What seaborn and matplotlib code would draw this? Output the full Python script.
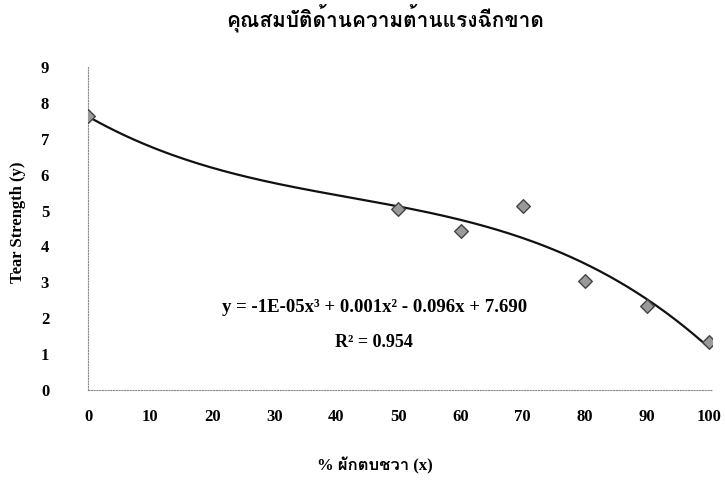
import numpy as np
import pandas as pd
import matplotlib
matplotlib.use("Agg")
import matplotlib.pyplot as plt
from matplotlib import font_manager
from matplotlib.ft2font import FT2Font
import seaborn as sns


TITLE = "คุณสมบัติด้านความต้านแรงฉีกขาด"
X_LABEL = "% ผักตบชวา (x)"
Y_LABEL = "Tear Strength (y)"
EQUATION = "y = -1E-05x³ + 0.001x² - 0.096x + 7.690"
R2_TEXT = "R² = 0.954"

PERCENT = [0, 50, 60, 70, 80, 90, 100]
TEAR_STRENGTH = [7.63, 5.04, 4.43, 5.13, 3.04, 2.34, 1.34]
X_TICKS = list(range(0, 101, 10))
Y_TICKS = list(range(0, 10))


def find_thai_font():
    for entry in font_manager.fontManager.ttflist:
        try:
            if 0x0E01 in FT2Font(entry.fname).get_charmap():
                return entry.name
        except Exception:
            continue
    return None


sns.set_theme(style="white")
thai = find_thai_font()
families = ["Liberation Serif"] + ([thai] if thai else []) + ["DejaVu Sans"]
plt.rcParams["font.family"] = families
plt.rcParams["font.weight"] = "bold"
plt.rcParams["text.color"] = "black"
plt.rcParams["xtick.color"] = "black"
plt.rcParams["ytick.color"] = "black"
plt.rcParams["axes.labelcolor"] = "black"

df = pd.DataFrame({"x": PERCENT, "y": TEAR_STRENGTH})

# cubic trendline, like the spreadsheet one
coef = np.polyfit(df["x"], df["y"], 3)
fit_x = np.linspace(0, 100, 200)
fit_df = pd.DataFrame({"x": fit_x, "y": np.polyval(coef, fit_x)})

fig = plt.figure(figsize=(7.25, 5.03), dpi=100)
ax = fig.add_axes([0.1214, 0.2247, 0.982 - 0.1214, 0.8668 - 0.2247])

sns.lineplot(data=fit_df, x="x", y="y", ax=ax, color="#111111", linewidth=1.6)
sns.scatterplot(data=df, x="x", y="y", ax=ax, marker="D", s=48,
                color="#9a9a9a", edgecolor="#444444", linewidth=1.0, zorder=3)

ax.set_xlim(0, 100.5)
ax.set_ylim(0, 9)
ax.set_xticks(X_TICKS)
ax.set_yticks(Y_TICKS)
ax.tick_params(axis="x", length=0, pad=14, labelsize=12)
ax.tick_params(axis="y", length=0, pad=28, labelsize=12)
for lab in ax.get_xticklabels() + ax.get_yticklabels():
    lab.set_fontweight("bold")

for side in ["top", "right"]:
    ax.spines[side].set_visible(False)
for side in ["left", "bottom"]:
    ax.spines[side].set_linestyle((0, (1, 1.5)))
    ax.spines[side].set_color("#8a8a8a")
    ax.spines[side].set_linewidth(0.8)

ax.set_xlabel("")
ax.set_ylabel(Y_LABEL, fontsize=12, fontweight="bold", labelpad=16)
ax.yaxis.set_label_coords(-0.1, 0.52)

ax.text(46.1, 2.31, EQUATION, ha="center", va="center", fontsize=13.5, fontweight="bold")
ax.text(46.1, 1.31, R2_TEXT, ha="center", va="center", fontsize=13, fontweight="bold")

fig.text(385 / 725, 1 - 18 / 503, TITLE, ha="center", va="center", fontsize=15, fontweight="bold")
fig.text(375 / 725, 1 - 466 / 503, X_LABEL, ha="center", va="center", fontsize=12, fontweight="bold")

fig.savefig("out.png", dpi=100, facecolor="white")
